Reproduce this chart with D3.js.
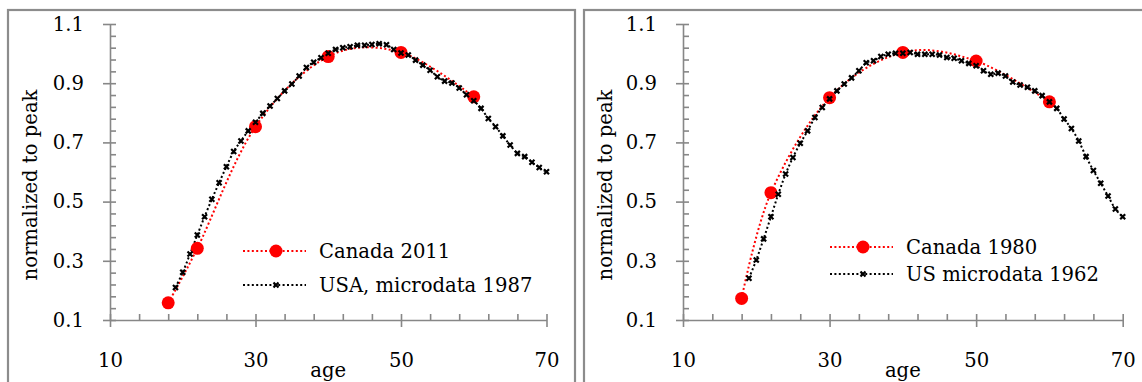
<!DOCTYPE html>
<html>
<head>
<meta charset="utf-8">
<script src="https://cdn.jsdelivr.net/npm/d3@7"></script>
<style>
  body { margin: 0; background: #fff; }
  svg { display: block; }
  text { font-family: "DejaVu Serif", serif; fill: #000; }
</style>
</head>
<body>
<div id="chart"></div>
<script>
// data
var canadaAges = [18, 22, 30, 40, 50, 60];
var canada2011 = [0.158, 0.342, 0.753, 0.990, 1.004, 0.854];
var canada1980 = [0.173, 0.530, 0.851, 1.004, 0.975, 0.837];

var usAges = [19, 20, 21, 22, 23, 24, 25, 26, 27, 28, 29, 30, 31, 32, 33, 34, 35, 36,
    37, 38, 39, 40, 41, 42, 43, 44, 45, 46, 47, 48, 49, 50, 51, 52, 53, 54, 55, 56,
    57, 58, 59, 60, 61, 62, 63, 64, 65, 66, 67, 68, 69, 70];
var usa1987 = [0.210, 0.261, 0.323, 0.387, 0.449, 0.508, 0.564, 0.618, 0.669, 0.705,
    0.739, 0.768, 0.798, 0.823, 0.848, 0.874, 0.897, 0.924, 0.953, 0.971, 0.986, 1.001,
    1.014, 1.020, 1.023, 1.028, 1.028, 1.031, 1.033, 1.030, 1.014, 1.002, 0.995, 0.978,
    0.961, 0.944, 0.922, 0.907, 0.901, 0.884, 0.861, 0.841, 0.815, 0.781, 0.753, 0.722,
    0.691, 0.663, 0.652, 0.633, 0.615, 0.601];
var us1962 = [0.241, 0.303, 0.374, 0.449, 0.525, 0.593, 0.649, 0.697, 0.739, 0.784,
    0.818, 0.847, 0.874, 0.897, 0.918, 0.942, 0.969, 0.976, 0.990, 0.998, 1.001, 1.001,
    1.004, 0.998, 0.998, 0.998, 0.995, 0.987, 0.984, 0.976, 0.967, 0.959, 0.942, 0.930,
    0.934, 0.924, 0.904, 0.894, 0.886, 0.874, 0.858, 0.837, 0.815, 0.779, 0.747, 0.705,
    0.652, 0.605, 0.562, 0.519, 0.475, 0.449];

var xTicks = [10, 30, 50, 70];
var yTicks = [0.1, 0.3, 0.5, 0.7, 0.9, 1.1];
var yLabel = "normalized to peak";
var xLabel = "age";

var svgWidth = 1142;
var svgHeight = 382;
var axisColor = "#878787";
var fontSize = 19.6;
var fontFamily = "'DejaVu Serif', serif";

var svg = d3.select("#chart")
    .append("svg")
    .attr("width", svgWidth)
    .attr("height", svgHeight);

var panels = [
    {
        frame: [8, 10, 567],
        xRange: [110, 546.5],
        yLabelX: 37,
        red: canada2011, redName: "Canada 2011",
        black: usa1987, blackName: "USA, microdata 1987",
        legend: {x: 243, rows: [251, 285]}
    },
    {
        frame: [584, 10, 600],
        xRange: [683, 1122.7],
        yLabelX: 612,
        red: canada1980, redName: "Canada 1980",
        black: us1962, blackName: "US microdata 1962",
        legend: {x: 830, rows: [247, 274]}
    }
];

function xMark(g, size) {
    g.append("path")
        .attr("d", `M${-size},${-size}L${size},${size}M${-size},${size}L${size},${-size}`)
        .attr("stroke", "#000")
        .attr("stroke-width", 2.2)
        .attr("fill", "none");
}

function drawPanel(p) {
    var g = svg.append("g");

    // frame
    g.append("rect")
        .attr("x", p.frame[0])
        .attr("y", p.frame[1])
        .attr("width", p.frame[2])
        .attr("height", 420)
        .attr("fill", "none")
        .attr("stroke", "#8c8c8c")
        .attr("stroke-width", 2.2);

    var xScale = d3.scaleLinear().domain([10, 70]).range(p.xRange);
    var yScale = d3.scaleLinear().domain([0.1, 1.1]).range([320, 24]);

    // minor ticks point inward
    g.append("g")
        .attr("transform", `translate(${p.xRange[0]},0)`)
        .call(d3.axisRight(yScale).tickValues(d3.range(0.1, 1.1001, 0.04)).tickSize(6).tickFormat(""))
        .call(a => a.select(".domain").remove());
    g.append("g")
        .attr("transform", "translate(0,320)")
        .call(d3.axisTop(xScale).tickValues(d3.range(10, 70.001, 4)).tickSize(6).tickFormat(""))
        .call(a => a.select(".domain").remove());

    var yAxis = g.append("g")
        .attr("transform", `translate(${p.xRange[0]},0)`)
        .call(d3.axisLeft(yScale).tickValues(yTicks).tickSize(7).tickSizeOuter(0)
            .tickPadding(19).tickFormat(d3.format(".1f")));
    var xAxis = g.append("g")
        .attr("transform", "translate(0,320)")
        .call(d3.axisBottom(xScale).tickValues(xTicks).tickSize(7).tickSizeOuter(0).tickPadding(26));

    [yAxis, xAxis].forEach(a => {
        a.selectAll("path, line").attr("stroke", axisColor).attr("stroke-width", 1.6);
        a.selectAll("text").attr("font-size", fontSize + "px").attr("fill", "#000")
            .attr("font-family", fontFamily);
    });
    g.selectAll(".tick line").attr("stroke", axisColor).attr("stroke-width", 1.6);

    g.append("text")
        .attr("transform", `translate(${p.yLabelX},${185}) rotate(-90)`)
        .attr("text-anchor", "middle")
        .attr("font-size", fontSize + "px")
        .text(yLabel);
    g.append("text")
        .attr("x", (p.xRange[0] + p.xRange[1]) / 2)
        .attr("y", 377)
        .attr("text-anchor", "middle")
        .attr("font-size", fontSize + "px")
        .text(xLabel);

    var line = d3.line()
        .x(d => xScale(d[0]))
        .y(d => yScale(d[1]))
        .curve(d3.curveCardinal.tension(0));

    var blackPts = d3.zip(usAges, p.black);
    var redPts = d3.zip(canadaAges, p.red);

    g.append("path")
        .datum(redPts)
        .attr("d", line)
        .attr("fill", "none")
        .attr("stroke", "#ff0000")
        .attr("stroke-width", 2)
        .attr("stroke-dasharray", "2,2.4");

    g.append("path")
        .datum(blackPts)
        .attr("d", line)
        .attr("fill", "none")
        .attr("stroke", "#000")
        .attr("stroke-width", 2)
        .attr("stroke-dasharray", "2,2.4");

    g.append("g").selectAll("circle")
        .data(redPts)
        .enter()
        .append("circle")
        .attr("cx", d => xScale(d[0]))
        .attr("cy", d => yScale(d[1]))
        .attr("r", 6.5)
        .attr("fill", "#ff0000");

    g.append("g").selectAll("g")
        .data(blackPts)
        .enter()
        .append("g")
        .attr("transform", d => `translate(${xScale(d[0])},${yScale(d[1])})`)
        .each(function() { xMark(d3.select(this), 2.5); });

    // legend
    var lg = p.legend;
    [[p.redName, "#ff0000"], [p.blackName, "#000"]].forEach((item, i) => {
        var y = lg.rows[i];
        g.append("line")
            .attr("x1", lg.x).attr("x2", lg.x + 63)
            .attr("y1", y).attr("y2", y)
            .attr("stroke", item[1])
            .attr("stroke-width", 2)
            .attr("stroke-dasharray", "2,2.4");
        if (i == 0) {
            g.append("circle")
                .attr("cx", lg.x + 33).attr("cy", y)
                .attr("r", 6.5)
                .attr("fill", "#ff0000");
        } else {
            var m = g.append("g").attr("transform", `translate(${lg.x + 33},${y})`);
            xMark(m, 2.5);
        }
        g.append("text")
            .attr("x", lg.x + 76)
            .attr("y", y)
            .attr("dy", "0.35em")
            .attr("font-size", fontSize + "px")
            .text(item[0]);
    });
}

panels.forEach(drawPanel);
</script>
</body>
</html>
